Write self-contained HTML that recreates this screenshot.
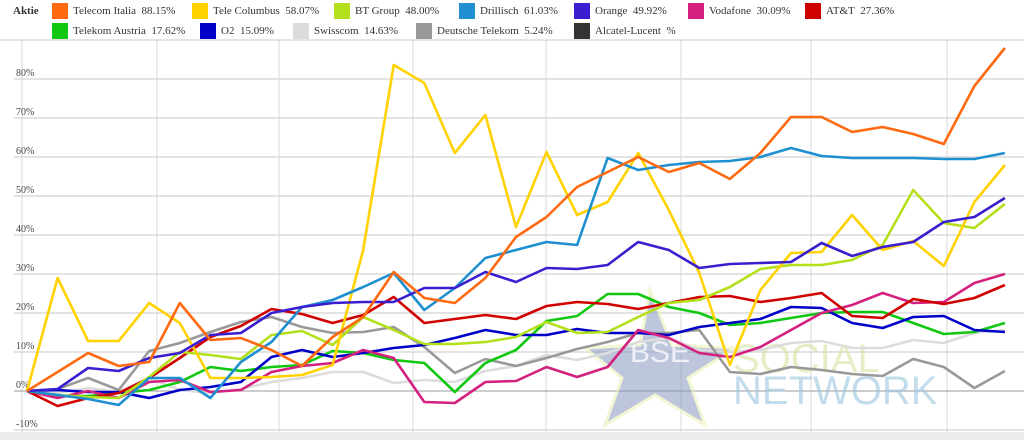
<!DOCTYPE html>
<html><head><meta charset="utf-8"><style>
body{margin:0;background:#fff;width:1024px;height:440px;overflow:hidden;font-family:"Liberation Serif",serif;}
.lg{position:absolute;font-size:11px;color:#333;line-height:16px;}
.sw{position:absolute;width:16px;height:16px;}
</style></head><body>
<div style="position:relative;width:1024px;height:440px">
<div class="lg" style="left:13px;top:3px;font-weight:bold">Aktie</div>
<div id="leg"></div>
<svg id="c" width="1024" height="440" style="position:absolute;left:0;top:0"></svg>
</div>
<script>
var series=[
["Telecom Italia","88.15%","#ff6a10",[391,372,353,366,362,303,340,338,350,366,337,317,272,298,303,278,237,217,187,172,157,172,163,179,153,117,117,132,127,134,144,86,48]],
["Tele Columbus","58.07%","#ffd200",[391,278,341,341,303,323,378,378,377,375,365,250,65,83,153,115,227,152,215,202,153,210,273,365,290,253,252,215,250,241,266,202,165]],
["BT Group","48.00%","#b3e01a",[391,395,397,398,377,352,355,359,335,331,345,317,330,344,344,342,337,322,333,332,317,303,300,287,269,265,265,260,245,190,223,228,204]],
["Drillisch","61.03%","#1e8fd0",[391,395,399,405,378,378,398,362,342,307,300,287,273,310,288,258,250,242,245,158,170,165,162,161,157,148,156,158,158,158,159,159,153]],
["Orange","49.92%","#3a1fd0",[391,389,368,371,358,353,335,333,313,307,303,302,302,288,288,272,282,268,269,265,242,250,268,264,263,262,243,256,247,242,222,217,198]],
["Vodafone","30.09%","#d4207e",[391,398,391,398,382,380,392,390,372,366,363,350,358,402,403,382,381,367,377,367,330,338,353,357,347,330,313,305,293,303,302,283,274]],
["AT&T","27.36%","#d00000",[391,406,398,393,378,358,337,326,309,314,323,315,297,323,319,315,319,306,302,304,309,303,297,296,302,298,293,316,318,299,304,298,285]],
["Telekom Austria","17.62%","#10c810",[391,396,396,393,390,382,367,371,367,365,351,353,360,363,392,363,350,321,316,294,294,307,313,325,323,318,313,312,312,323,334,332,323]],
["O2","15.09%","#0000c8",[391,390,392,392,398,390,387,382,357,350,357,353,348,345,338,330,335,335,329,333,333,335,327,323,319,307,308,323,328,317,316,330,332]],
["Swisscom","14.63%","#dcdcdc",[391,393,388,392,378,390,393,389,382,378,372,372,383,380,382,371,366,355,360,353,342,338,350,352,350,343,341,348,348,340,343,333,330]],
["Deutsche Telekom","5.24%","#999999",[391,389,378,390,351,343,332,322,317,327,333,332,327,347,373,359,366,358,349,342,333,333,330,372,374,367,370,374,376,359,367,388,371]],
["Alcatel-Lucent","","#333333",null]];
var legPos=[[52,3],[192,3],[334,3],[459,3],[574,3],[688,3],[805,3],[52,23],[200,23],[293,23],[416,23],[574,23]];
var lh="";
series.forEach(function(s,i){var p=legPos[i];
lh+='<div class="sw" style="left:'+p[0]+'px;top:'+p[1]+'px;background:'+s[2]+'"></div>';
lh+='<div class="lg" style="left:'+(p[0]+21)+'px;top:'+(p[1])+'px">'+s[0].replace("&","&amp;")+'&nbsp; '+s[1]+(s[1]?'':'%')+'</div>';});
document.getElementById("leg").innerHTML=lh;
var g='';
g+='<line x1="0" y1="40" x2="1024" y2="40" stroke="#e4e4e4" stroke-width="2"/>';
[22,157,279,413,546,681,811,947].forEach(function(x){g+='<line x1="'+x+'" y1="40" x2="'+x+'" y2="432" stroke="#d8d8d8"/>';});
var labs=["80%","70%","60%","50%","40%","30%","20%","10%","0%","-10%"];
for(var k=0;k<10;k++){var y=79+39*k;
g+='<line x1="14" y1="'+y+'" x2="1024" y2="'+y+'" stroke="'+(k==8?'#999':'#dadada')+'" stroke-width="'+(k==8?1:1.5)+'"/>';
g+='<text x="16" y="'+(y-3)+'" font-size="10" fill="#444" font-family="Liberation Serif,serif">'+labs[k]+'</text>';}
g+='<rect x="0" y="432" width="1024" height="8" fill="#ececec"/>';
// watermark
g+='<polygon points="650,290 672,345 735,348 688,378 705,425 655,395 605,425 622,378 585,348 640,345" fill="#8899c0" opacity="0.55" stroke="#e8f0b0" stroke-width="3"/>';
g+='<text x="630" y="362" font-size="30" fill="#fff" opacity="0.75" font-family="Liberation Sans,sans-serif">BSE</text>';
g+='<text x="733" y="372" font-size="40" fill="#d4e4a0" opacity="0.6" font-family="Liberation Sans,sans-serif">SOCIAL</text>';
g+='<text x="733" y="404" font-size="40" fill="#9cc6e0" opacity="0.6" font-family="Liberation Sans,sans-serif">NETWORK</text>';
var order=[9,10,7,8,5,6,2,1,3,4,0];
order.forEach(function(i){var s=series[i];var pts=s[3].map(function(y,j){return (27+30.56*j).toFixed(1)+','+y;}).join(' ');
g+='<polyline points="'+pts+'" fill="none" stroke="'+s[2]+'" stroke-width="2.6" stroke-linejoin="round"/>';});
document.getElementById("c").innerHTML=g;
</script>
</body></html>
